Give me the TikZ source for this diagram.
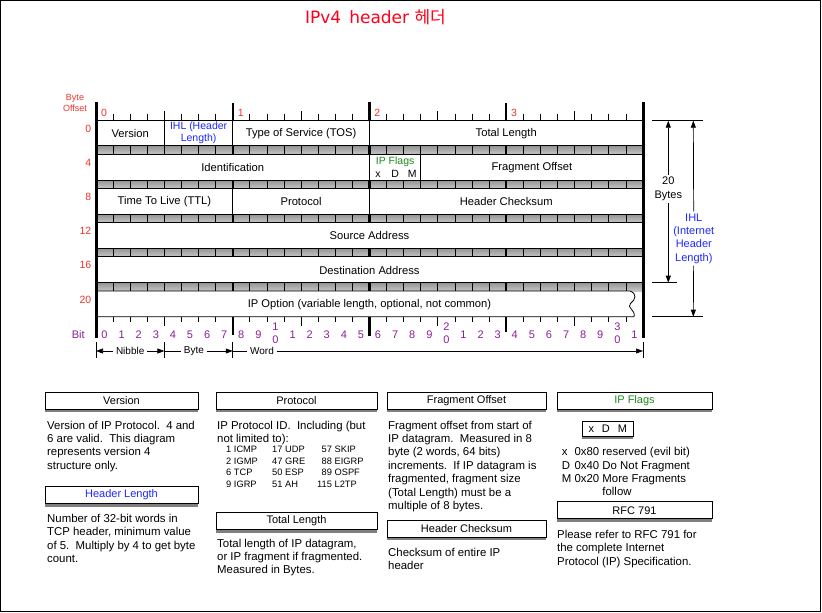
\documentclass[tikz,border=0pt]{standalone}
\usepackage{fontspec}
\setmainfont{Liberation Sans}
\newfontfamily\krfont{Noto Sans CJK KR}
\newfontfamily\dvfont{DejaVu Sans}
\usetikzlibrary{arrows.meta,shadows}
\definecolor{offred}{RGB}{240,50,40}
\definecolor{titlered}{RGB}{255,0,25}
\definecolor{ihlblue}{RGB}{30,40,255}
\definecolor{flaggreen}{RGB}{30,140,30}
\definecolor{bitpurple}{RGB}{140,30,150}
\newcommand{\fsz}[2]{\fontsize{#1}{#2}\selectfont}
\newcommand{\desclines}[1]{\fsz{11.4}{13.4}\begin{tabular}[t]{@{}l@{}}#1\end{tabular}}
\newcommand{\tblcol}[1]{\fsz{9.3}{11.6}\begin{tabular}[t]{@{}r@{\ }l@{}}#1\end{tabular}}
\begin{document}
\begin{tikzpicture}[x=1pt,y=-1pt,
  fld/.style={inner sep=0pt,font=\fsz{11.2}{13}},
  offlab/.style={inner sep=0pt,text=offred,font=\fsz{10.5}{12}},
  bitlab/.style={inner sep=0pt,text=bitpurple,font=\fsz{11}{13.3},align=center},
  armlab/.style={inner sep=2.5pt,font=\fsz{10}{12}},
  tri/.style={-{Triangle[length=7pt,width=5pt]}},
  lbox/.style={draw,fill=white,line width=0.8pt,inner sep=0pt,minimum height=17pt,
    font=\fsz{11}{13},drop shadow={shadow xshift=0pt,shadow yshift=-3pt,opacity=0.5,fill=black}},
  desc/.style={anchor=base west,inner sep=0pt},
  minor/.style={line width=0.7pt},
  nib/.style={line width=1.2pt},
  hbyte/.style={line width=2pt},
  fbyte/.style={line width=3pt}]
\useasboundingbox (0,0) rectangle (822,613);
\draw[line width=1.4pt] (0.7,0.7) rectangle (820.6,611.6);

% title
\node[inner sep=0pt,text=titlered,font=\fsz{17}{20}\dvfont] (title) at (375.5,17.5) {IPv4\hspace{8pt}header {\krfont 헤더}};

% gaps between rows
\foreach \k in {0,...,4}{
  \pgfmathsetmacro{\ya}{145.7+34.2*\k}
  \pgfmathsetmacro{\yb}{154.2+34.2*\k}
  \shade[top color=gray!85,bottom color=gray!45] (96,\ya) rectangle (643,\yb);
  \foreach \b in {1,2,3,5,6,7,9,10,11,13,14,15,17,18,19,21,22,23,25,26,27,29,30,31}
    \draw[minor] ({96+17.09375*\b},\ya) -- ({96+17.09375*\b},\yb);
  \foreach \b in {4,12,20,28}
    \draw[nib] ({96+17.09375*\b},\ya) -- ({96+17.09375*\b},\yb);
  \foreach \b in {8,24}
    \draw[hbyte] ({96+17.09375*\b},\ya) -- ({96+17.09375*\b},\yb);
  \draw[fbyte] (369.5,\ya) -- (369.5,\yb);
}

% rows
\foreach \k in {0,...,4}{
  \pgfmathsetmacro{\ya}{120+34.2*\k}
  \draw[fill=white,line width=0.8pt] (96,\ya) rectangle (643,\ya+25.7);
}
\draw[fill=white,line width=0.8pt] (96,291) -- (630,291)
  .. controls (637,293.5) and (636,299.5) .. (630.5,303.5)
  .. controls (626,307.5) and (636,310) .. (634,316.7) -- (96,316.7) -- cycle;

% field dividers
\draw[line width=0.8pt] (164.375,120) -- (164.375,145.7)
  (232.75,120) -- (232.75,145.7) (369.5,120) -- (369.5,145.7)
  (369.5,154.2) -- (369.5,179.9) (420.78,154.2) -- (420.78,179.9)
  (232.75,188.4) -- (232.75,214.1) (369.5,188.4) -- (369.5,214.1);

% top ruler
\foreach \b in {1,2,3,5,6,7,9,10,11,13,14,15,17,18,19,21,22,23,25,26,27,29,30,31}
  \draw[minor] ({96+17.09375*\b},113.5) -- ({96+17.09375*\b},120);
\foreach \b in {4,12,20,28}
  \draw[nib] ({96+17.09375*\b},111) -- ({96+17.09375*\b},120);
\foreach \b in {8,24}
  \draw[hbyte] ({96+17.09375*\b},103) -- ({96+17.09375*\b},120);
\draw[fbyte] (369.5,102) -- (369.5,120);

% bottom ruler
\foreach \b in {1,2,3,5,6,7,9,10,11,13,14,15,17,18,19,21,22,23,25,26,27,29,30,31}
  \draw[minor] ({96+17.09375*\b},316.7) -- ({96+17.09375*\b},322);
\foreach \b in {4,12,20,28}
  \draw[nib] ({96+17.09375*\b},316.7) -- ({96+17.09375*\b},325.5);
\draw[hbyte] (232.75,316.7) -- (232.75,334.5);
\draw[hbyte] (506.25,316.7) -- (506.25,332);
\draw[fbyte] (369.5,316.7) -- (369.5,335.5);

% outer thick lines
\draw[fbyte] (96,102) -- (96,338);
\draw[fbyte] (643,102) -- (643,338);

% byte numbers
\node[offlab] (by0) at (104,113) {0};
\node[offlab] (by1) at (240.7,113) {1};
\node[offlab] (by2) at (377.4,113) {2};
\node[offlab] (by3) at (514,113) {3};

% byte offsets
\node[inner sep=0pt,text=offred,font=\fsz{9}{11.4},align=center] (bo) at (75,103) {Byte\\Offset};
\node[offlab,anchor=east] (o0) at (91.5,128.5) {0};
\node[offlab,anchor=east] (o4) at (91.5,162.7) {4};
\node[offlab,anchor=east] (o8) at (91.5,196.9) {8};
\node[offlab,anchor=east] (o12) at (91.5,231.1) {12};
\node[offlab,anchor=east] (o16) at (91.5,265.3) {16};
\node[offlab,anchor=east] (o20) at (91.5,299.5) {20};

% field labels
\node[fld] (ver) at (130.2,133.3) {Version};
\node[fld,text=ihlblue,font=\fsz{10.5}{12},align=center] (ihl) at (198.6,133) {IHL (Header\\Length)};
\node[fld] (tos) at (301.1,133.3) {Type of Service (TOS)};
\node[fld] (tlen) at (506.25,133.3) {Total Length};
\node[fld] (ident) at (232.75,167.5) {Identification};
\node[fld,text=flaggreen,font=\fsz{10.5}{12}] (flags) at (395.1,162) {IP Flags};
\node[fld,font=\fsz{10.5}{12}] (fx) at (378,174.3) {x};
\node[fld,font=\fsz{10.5}{12}] (fd) at (395.2,174) {D};
\node[fld,font=\fsz{10.5}{12}] (fm) at (412.3,174) {M};
\node[fld] (frag) at (531.9,167.5) {Fragment Offset};
\node[fld] (ttl) at (164.4,201.7) {Time To Live (TTL)};
\node[fld] (proto) at (301.1,201.7) {Protocol};
\node[fld] (hcs) at (506.25,201.7) {Header Checksum};
\node[fld] (src) at (369.5,235.9) {Source Address};
\node[fld] (dst) at (369.5,270.1) {Destination Address};
\node[fld] (opt) at (369.5,304.3) {IP Option (variable length, optional, not common)};

% bit numbers
\node[bitlab] (bitl) at (78.3,335) {Bit};
\foreach \b in {0,...,31}{
  \pgfmathtruncatemacro{\dd}{mod(\b,10)}
  \pgfmathtruncatemacro{\tens}{div(\b,10)}
  \pgfmathtruncatemacro{\stk}{(\dd==0)&&(\b>0)}
  \ifnum\stk=1
    \node[bitlab] (bit\b) at ({104.55+17.09375*\b},333.3) {\tens\\0};
  \else
    \node[bitlab] (bit\b) at ({104.55+17.09375*\b},335) {\dd};
  \fi
}

% nibble / byte / word
\coordinate (n0) at (96,351);
\coordinate (n1) at (164.375,351);
\coordinate (n2) at (232.75,351);
\coordinate (n3) at (643,351);
\draw[line width=0.6pt] (96,342) -- (96,358) (164.375,342) -- (164.375,358)
  (232.75,342) -- (232.75,358) (643,342) -- (643,358);
\node[armlab] (nibble) at (130.2,351) {Nibble};
\node[armlab] (byte) at (194,351) {Byte};
\node[armlab] (word) at (262,351) {Word};
\draw[tri,line width=0.6pt] (nibble) -- (n0);
\draw[tri,line width=0.6pt] (nibble) -- (n1);
\draw[line width=0.6pt] (n1) -- (byte);
\draw[tri,line width=0.6pt] (byte) -- (n2);
\draw[line width=0.6pt] (n2) -- (word);
\draw[tri,line width=0.6pt] (word) -- (n3);

% right side dimensions
\draw[line width=0.7pt] (652,120.7) -- (703,120.7) (652,282.7) -- (677,282.7) (652,316.7) -- (703,316.7);
\coordinate (tbT) at (668.3,120.7);
\coordinate (tbB) at (668.3,282.7);
\coordinate (ihT) at (693.3,120.7);
\coordinate (ihB) at (693.3,316.7);
\node[inner sep=2pt,align=center,font=\fsz{11}{14.3}] (twenty) at (668.3,189) {20\\Bytes};
\node[inner sep=2pt,align=center,text=ihlblue,font=\fsz{11}{13.3}] (ihlr) at (693.8,238.5) {IHL\\(Internet\\Header\\Length)};
\draw[tri,line width=0.7pt] (twenty) -- (tbT);
\draw[tri,line width=0.7pt] (twenty) -- (tbB);
\draw[tri,line width=0.7pt] (ihlr) -- (ihT);
\draw[tri,line width=0.7pt] (ihlr) -- (ihB);

% legend column 1
\node[lbox,minimum width=153pt] (lver) at (121.5,400.5) {Version};
\node[desc] (dver) at (47,429) {\desclines{Version of IP Protocol.\ \ 4 and\\6 are valid.\ \ This diagram\\represents version 4\\structure only.}};
\node[lbox,minimum width=153pt,text=ihlblue] (lhl) at (121.5,495) {Header Length};
\node[desc] (dhl) at (47,522.5) {\desclines{Number of 32-bit words in\\TCP header, minimum value\\of 5.\ \ Multiply by 4 to get byte\\count.}};

% legend column 2
\node[lbox,minimum width=161pt] (lpro) at (296.5,400.5) {Protocol};
\node[desc] (dpro) at (217,429) {\desclines{IP Protocol ID.\ \ Including (but\\not limited to):}};
\node[desc] (tc1) at (226,452.5) {\tblcol{1 & ICMP\\2 & IGMP\\6 & TCP\\9 & IGRP}};
\node[desc] (tc2) at (272,452.5) {\tblcol{17 & UDP\\47 & GRE\\50 & ESP\\51 & AH}};
\node[desc] (tc3) at (317,452.5) {\tblcol{57 & SKIP\\88 & EIGRP\\89 & OSPF\\115 & L2TP}};
\node[lbox,minimum width=161pt] (ltl) at (296.5,521) {Total Length};
\node[desc] (dtl) at (217,547) {\desclines{Total length of IP datagram,\\or IP fragment if fragmented.\\Measured in Bytes.}};

% legend column 3
\node[lbox,minimum width=159pt] (lfo) at (466.5,400.5) {Fragment Offset};
\node[desc] (dfo) at (388,429) {\desclines{Fragment offset from start of\\IP datagram.\ \ Measured in 8\\byte (2 words, 64 bits)\\increments.\ \ If IP datagram is\\fragmented, fragment size\\(Total Length) must be a\\multiple of 8 bytes.}};
\node[lbox,minimum width=159pt] (lhc) at (466.5,528.5) {Header Checksum};
\node[desc] (dhc) at (388,556) {\desclines{Checksum of entire IP\\header}};

% legend column 4
\node[lbox,minimum width=155pt,text=flaggreen] (lfl) at (634.5,400.5) {IP Flags};
\node[lbox,minimum width=51pt,minimum height=14.5pt] (xdm) at (607.8,429) {x\hspace{8pt}D\hspace{8pt}M};
\node[desc] (dfl) at (561.7,455.7) {\fsz{11.4}{13.4}\begin{tabular}[t]{@{}l@{\ }l@{\ }l@{}}x & 0x80 & reserved (evil bit)\\D & 0x40 & Do Not Fragment\\M & 0x20 & More Fragments\\ & & follow\end{tabular}};
\node[lbox,minimum width=155pt] (lrfc) at (634.5,510.3) {RFC 791};
\node[desc] (drfc) at (557,538.5) {\desclines{Please refer to RFC 791 for\\the complete Internet\\Protocol (IP) Specification.}};
\end{tikzpicture}
\end{document}
